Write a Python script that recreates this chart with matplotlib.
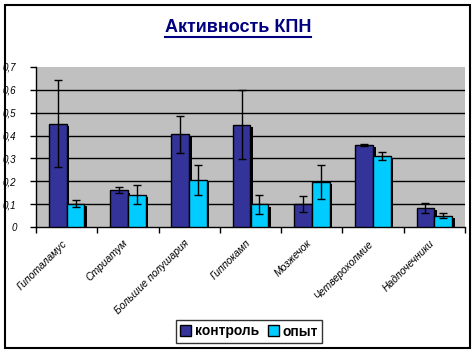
import matplotlib
matplotlib.use("Agg")
import matplotlib.pyplot as plt
import matplotlib.transforms as mtransforms
from matplotlib.patches import Patch, Rectangle
from matplotlib.lines import Line2D
import numpy as np

categories = ["Гипоталамус", "Стриатум", "Большие полушария", "Гиппокамп",
              "Мозжечок", "Четверохолмие", "Надпочечники"]
control = [0.452, 0.160, 0.405, 0.448, 0.099, 0.359, 0.085]
control_err = [0.190, 0.013, 0.080, 0.152, 0.035, 0.003, 0.022]
experiment = [0.102, 0.142, 0.207, 0.100, 0.197, 0.311, 0.050]
experiment_err = [0.015, 0.040, 0.065, 0.042, 0.075, 0.019, 0.011]
yticks = [0, 0.1, 0.2, 0.3, 0.4, 0.5, 0.6, 0.7]
ytick_labels = ["0", "0,1", "0,2", "0,3", "0,4", "0,5", "0,6", "0,7"]

plt.rcParams['font.family'] = ['Liberation Sans', 'DejaVu Sans']

W, H = 476, 352
fig = plt.figure(figsize=(W / 100, H / 100), dpi=100)
fig.patch.set_facecolor("white")

# outer border
fig.add_artist(Rectangle((4.5 / W, 1 - 347.5 / H), (470 - 4.5) / W, (347.5 - 4.5) / H,
                         transform=fig.transFigure, fill=False, edgecolor="black",
                         linewidth=1.5))

ax = fig.add_axes([36 / W, 1 - 227 / H, (465 - 36) / W, 160 / H])
ax.set_facecolor("#C0C0C0")
for s in ["top", "right"]:
    ax.spines[s].set_visible(False)
ax.spines["left"].set_linewidth(1)
ax.spines["bottom"].set_linewidth(1)

x = np.arange(len(categories))
bw = 0.29
ctrl_color = "#333399"
exp_color = "#00CCFF"

shadow = mtransforms.offset_copy(ax.transData, fig=fig, x=2.5, y=-2.5, units="dots")
ax.bar(x - bw / 2, control, bw, color="black", transform=shadow, zorder=2)
ax.bar(x + bw / 2, experiment, bw, color="black", transform=shadow, zorder=2)
ax.bar(x - bw / 2, control, bw, color=ctrl_color, edgecolor="black", linewidth=1, zorder=3)
ax.bar(x + bw / 2, experiment, bw, color=exp_color, edgecolor="black", linewidth=1, zorder=3)
ax.errorbar(x - bw / 2, control, yerr=control_err, fmt="none", ecolor="black",
            elinewidth=1, capsize=3, capthick=1, zorder=4)
ax.errorbar(x + bw / 2, experiment, yerr=experiment_err, fmt="none", ecolor="black",
            elinewidth=1, capsize=3, capthick=1, zorder=4)

for v in yticks[1:-1]:
    ax.axhline(v, color="black", linewidth=1, zorder=1)

ax.set_xlim(-0.5, len(categories) - 0.5)
ax.set_ylim(0, 0.7)
ax.set_yticks(yticks)
ax.set_yticklabels(ytick_labels, fontsize=7, style="italic")
ax.tick_params(axis="y", direction="out", length=4, width=1, pad=10)

ax.set_xticks(x)
ax.set_xticklabels(categories, fontsize=7.5, style="italic", rotation=45,
                   ha="right", rotation_mode="anchor")
ax.tick_params(axis="x", which="major", length=0, pad=8)
offset = mtransforms.ScaledTranslation(-5 / 100, 0, fig.dpi_scale_trans)
for lbl in ax.get_xticklabels():
    lbl.set_transform(lbl.get_transform() + offset)
ax.set_xticks(np.arange(-0.5, len(categories), 1), minor=True)
ax.tick_params(axis="x", which="minor", direction="out", length=4, width=1)

# title with underline
t = fig.text(238 / W, 1 - 27 / H, "Активность КПН", ha="center", va="center",
             fontsize=13, fontweight="bold", color="#000080")
fig.canvas.draw()
bb = t.get_window_extent(renderer=fig.canvas.get_renderer())
yline = (bb.y0 - 1.5) / H
fig.add_artist(Line2D([bb.x0 / W, bb.x1 / W], [yline, yline], transform=fig.transFigure,
                      color="#000080", linewidth=1.5))

handles = [Patch(facecolor=ctrl_color, edgecolor="black", label="контроль"),
           Patch(facecolor=exp_color, edgecolor="black", label="опыт")]
leg = fig.legend(handles=handles, loc="center", bbox_to_anchor=(249 / W, 1 - 331.5 / H),
                 ncol=2, frameon=True, fancybox=False, prop={"weight": "bold", "size": 10},
                 handlelength=0.8, handleheight=0.8, handletextpad=0.3, columnspacing=0.6,
                 borderpad=0.3, borderaxespad=0)
leg.get_frame().set_edgecolor("black")
leg.get_frame().set_linewidth(1)

fig.savefig("out.png", dpi=100)
